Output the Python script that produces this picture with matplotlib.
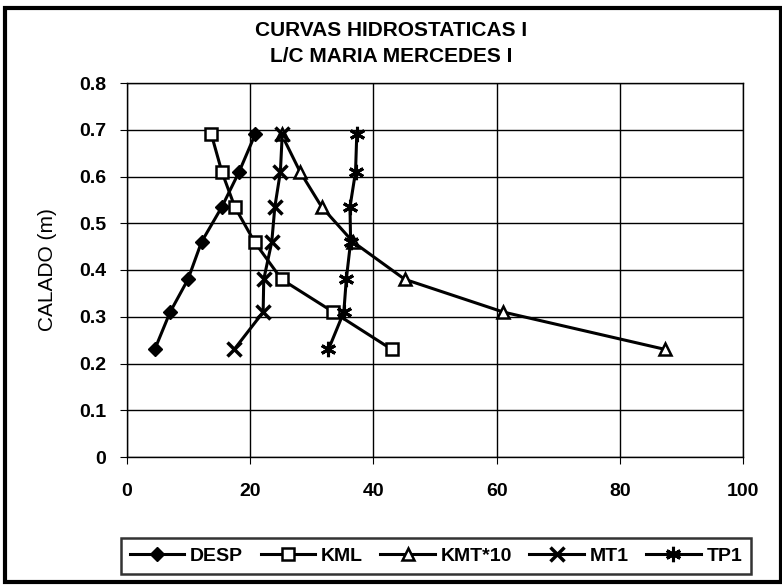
import matplotlib
matplotlib.use('Agg')
import matplotlib.pyplot as plt
from matplotlib.patches import Rectangle

# calado (m)
draft = [0.23, 0.31, 0.38, 0.46, 0.535, 0.61, 0.69]

desp = [4.5, 7.0, 9.9, 12.1, 15.4, 18.2, 20.8]
kml = [43.0, 33.5, 25.1, 20.7, 17.5, 15.4, 13.7]
kmt10 = [87.4, 61.1, 45.1, 36.7, 31.6, 28.1, 25.1]
mt1 = [17.4, 22.1, 22.2, 23.5, 24.0, 24.9, 25.2]
tp1 = [32.7, 35.2, 35.6, 36.3, 36.2, 37.1, 37.3]

x_ticks = [0, 20, 40, 60, 80, 100]
y_ticks = [0, 0.1, 0.2, 0.3, 0.4, 0.5, 0.6, 0.7, 0.8]
y_labels = ['0', '0.1', '0.2', '0.3', '0.4', '0.5', '0.6', '0.7', '0.8']

FONT = ['Liberation Sans Narrow', 'Liberation Sans', 'DejaVu Sans']
plt.rcParams['font.family'] = FONT

fig = plt.figure(figsize=(7.82, 5.85), dpi=100)
fig.patch.set_facecolor('white')

# marco exterior
fig.patches.append(Rectangle((5 / 782, 3 / 585), 776 / 782, 574 / 585,
                             transform=fig.transFigure, fill=False,
                             edgecolor='black', lw=3))

ax = fig.add_axes([127 / 782, 1 - 457 / 585, (743 - 127) / 782, (457 - 83) / 585])

series = [
    ('DESP', desp, dict(marker='D', ms=7, mfc='black')),
    ('KML', kml, dict(marker='s', ms=8, mfc='white', mew=1.8)),
    ('KMT*10', kmt10, dict(marker='^', ms=9, mfc='white', mew=1.8)),
    ('MT1', mt1, dict(marker='x', ms=10, mew=2.5)),
    ('TP1', tp1, dict(marker=(6, 2, 0), ms=11, mew=2.2)),
]
for name, vals, st in series:
    ax.plot(vals, draft, '-', color='black', lw=2.2, mec='black', label=name, **st)

ax.set_xlim(0, 100)
ax.set_ylim(0, 0.8)
ax.set_xticks(x_ticks)
ax.set_xticklabels([str(v) for v in x_ticks], fontsize=14, fontweight='bold')
ax.set_yticks(y_ticks)
ax.set_yticklabels(y_labels, fontsize=14, fontweight='bold')
ax.tick_params(axis='both', direction='out', length=5, color='black', pad=10)
ax.tick_params(axis='x', pad=14)
ax.grid(True, color='black', lw=1.0)
for s in ax.spines.values():
    s.set_color('black')
    s.set_linewidth(1.0)
ax.set_axisbelow(True)

ax.set_ylabel('CALADO (m)', fontsize=15, labelpad=16)

fig.text(0.5, 1 - 30 / 585, 'CURVAS HIDROSTATICAS I', ha='center', va='center',
         fontsize=15, fontweight='bold')
fig.text(0.5, 1 - 56 / 585, 'L/C MARIA MERCEDES I', ha='center', va='center',
         fontsize=15, fontweight='bold')

leg = fig.legend(loc='center', bbox_to_anchor=(436 / 782, 1 - 556 / 585), ncol=5,
                 fontsize=14, frameon=True, fancybox=False, edgecolor='black',
                 handlelength=2.8, columnspacing=0.9, handletextpad=0.3,
                 borderpad=0.45)
leg.get_frame().set_linewidth(1.8)
for t in leg.get_texts():
    t.set_fontweight('bold')

fig.savefig('out.png', dpi=100, facecolor='white')
